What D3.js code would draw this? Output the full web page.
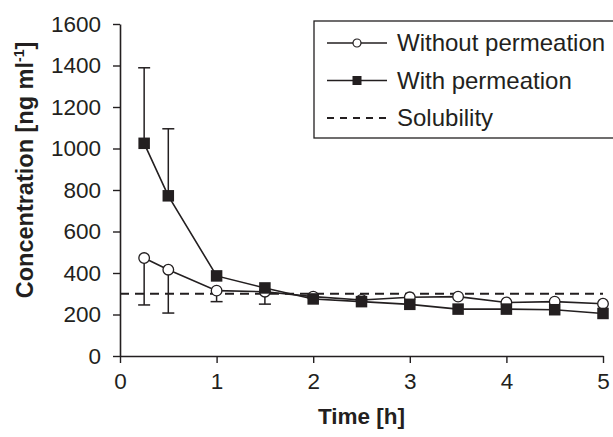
<!DOCTYPE html>
<html>
<head>
<meta charset="utf-8">
<script src="https://cdn.jsdelivr.net/npm/d3@7"></script>
<style>
  body { margin: 0; background: #fff; }
  svg { display: block; font-family: "Liberation Sans", Arial, sans-serif; }
</style>
</head>
<body>
<div id="chart"></div>
<script>
// time points [h]
const times = [0.25, 0.5, 1, 1.5, 2, 2.5, 3, 3.5, 4, 4.5, 5];
// concentration without permeation (open circles)
const withoutPerm = [472, 416, 315, 310, 286, 270, 283, 286, 258, 262, 252];
// lower error bar ends, without permeation (null = none shown)
const withoutLow = [246, 207, 262, 250, null, null, null, null, null, null, null];
// concentration with permeation (filled squares)
const withPerm = [1025, 772, 386, 328, 275, 262, 249, 226, 226, 223, 205];
// upper error bar ends, with permeation
const withHigh = [1389, 1095, null, null, null, null, null, null, null, null, null];
const solubility = 300;
const yTicks = [0, 200, 400, 600, 800, 1000, 1200, 1400, 1600];
const xTicks = [0, 1, 2, 3, 4, 5];

const W = 613, H = 437;
const margin = { top: 24, right: 10, bottom: 81, left: 120 },
  width = W - margin.left - margin.right,
  height = H - margin.top - margin.bottom;
const ink = "#231f20";

const svg = d3
  .select("#chart")
  .append("svg")
  .attr("width", W)
  .attr("height", H);

const g = svg
  .append("g")
  .attr("transform", `translate(${margin.left}, ${margin.top})`);

const x = d3.scaleLinear().domain([0, 5]).range([0, width]);
const y = d3.scaleLinear().domain([0, 1600]).range([height, 0]);

// axes
const xAxis = g
  .append("g")
  .attr("transform", `translate(0, ${height})`)
  .call(
    d3.axisBottom(x).tickValues(xTicks).tickFormat(d3.format("d"))
      .tickSize(7).tickSizeOuter(0).tickPadding(10)
  );
const yAxis = g
  .append("g")
  .call(
    d3.axisLeft(y).tickValues(yTicks).tickFormat(d3.format("d"))
      .tickSize(7).tickSizeOuter(0).tickPadding(12)
  );

[xAxis, yAxis].forEach((ax) => {
  ax.select(".domain").attr("stroke", ink).attr("stroke-width", 1.6);
  ax.selectAll(".tick line").attr("stroke", ink).attr("stroke-width", 1.4);
  ax.selectAll(".tick text")
    .attr("fill", ink)
    .attr("font-size", 22.5)
    .attr("font-family", "Liberation Sans, Arial, sans-serif");
});

// axis titles
g.append("text")
  .attr("text-anchor", "middle")
  .attr("x", width / 2)
  .attr("y", height + 68)
  .attr("font-size", 22.5)
  .attr("font-weight", "bold")
  .attr("fill", ink)
  .text("Time [h]");

const yTitle = g
  .append("text")
  .attr("text-anchor", "middle")
  .attr("transform", "rotate(-90)")
  .attr("x", -(170 - margin.top))
  .attr("y", -87)
  .attr("font-size", 23.5)
  .attr("font-weight", "bold")
  .attr("fill", ink);
yTitle.append("tspan").text("Concentration [ng ml");
yTitle.append("tspan").attr("font-size", 14).attr("dy", -9).text("-1");
yTitle.append("tspan").attr("dy", 9).text("]");

// solubility line
g.append("line")
  .attr("x1", x(0))
  .attr("x2", x(5))
  .attr("y1", y(solubility))
  .attr("y2", y(solubility))
  .attr("stroke", ink)
  .attr("stroke-width", 2)
  .attr("stroke-dasharray", "9,6");

// error bars
const capW = 6;
const drawErr = function (vals, ends) {
  times.forEach((t, i) => {
    if (ends[i] === null) return;
    const eb = g.append("g").attr("stroke", ink).attr("stroke-width", 1.5);
    eb.append("line")
      .attr("x1", x(t)).attr("x2", x(t))
      .attr("y1", y(vals[i])).attr("y2", y(ends[i]));
    eb.append("line")
      .attr("x1", x(t) - capW).attr("x2", x(t) + capW)
      .attr("y1", y(ends[i])).attr("y2", y(ends[i]));
  });
};
drawErr(withoutPerm, withoutLow);
drawErr(withPerm, withHigh);

const line = d3.line().x((d) => x(d[0])).y((d) => y(d[1]));

// without permeation
g.append("path")
  .datum(times.map((t, i) => [t, withoutPerm[i]]))
  .attr("fill", "none")
  .attr("stroke", ink)
  .attr("stroke-width", 1.6)
  .attr("d", line);
g.append("g")
  .selectAll("circle")
  .data(times.map((t, i) => [t, withoutPerm[i]]))
  .join("circle")
  .attr("cx", (d) => x(d[0]))
  .attr("cy", (d) => y(d[1]))
  .attr("r", 5.3)
  .attr("fill", "#fff")
  .attr("stroke", ink)
  .attr("stroke-width", 1.3);

// with permeation
g.append("path")
  .datum(times.map((t, i) => [t, withPerm[i]]))
  .attr("fill", "none")
  .attr("stroke", ink)
  .attr("stroke-width", 1.6)
  .attr("d", line);
const sq = 11.5;
g.append("g")
  .selectAll("rect")
  .data(times.map((t, i) => [t, withPerm[i]]))
  .join("rect")
  .attr("x", (d) => x(d[0]) - sq / 2)
  .attr("y", (d) => y(d[1]) - sq / 2)
  .attr("width", sq)
  .attr("height", sq)
  .attr("fill", ink);

// legend
const legend = svg.append("g").attr("transform", "translate(314, 21)");
legend.append("rect")
  .attr("x", 0).attr("y", 0)
  .attr("width", 310).attr("height", 117)
  .attr("fill", "#fff")
  .attr("stroke", ink)
  .attr("stroke-width", 1.3);

const rows = [
  { label: "Without permeation", type: "circle" },
  { label: "With permeation", type: "square" },
  { label: "Solubility", type: "dash" },
];
rows.forEach((r, i) => {
  const ly = 22 + i * 37.5;
  const row = legend.append("g").attr("transform", `translate(0, ${ly})`);
  row.append("line")
    .attr("x1", 13).attr("x2", 73)
    .attr("y1", 0).attr("y2", 0)
    .attr("stroke", ink)
    .attr("stroke-width", r.type === "dash" ? 2 : 1.5)
    .attr("stroke-dasharray", r.type === "dash" ? "7,6" : null);
  if (r.type === "circle") {
    row.append("circle").attr("cx", 43).attr("cy", 0).attr("r", 4)
      .attr("fill", "#fff").attr("stroke", ink).attr("stroke-width", 1.2);
  } else if (r.type === "square") {
    row.append("rect").attr("x", 38.5).attr("y", -4.5).attr("width", 9).attr("height", 9)
      .attr("fill", ink);
  }
  row.append("text")
    .attr("x", 83)
    .attr("y", 0)
    .attr("dy", "0.35em")
    .attr("font-size", 24)
    .attr("fill", ink)
    .text(r.label);
});
</script>
</body>
</html>
